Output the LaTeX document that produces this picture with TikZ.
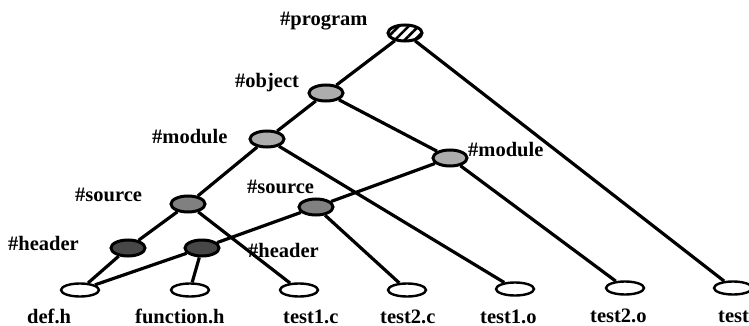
\documentclass[tikz,border=0pt]{standalone}
\usepackage{fontspec}
\setmainfont{Liberation Serif}
\usetikzlibrary{shapes.geometric}
\usetikzlibrary{patterns.meta}
\tikzset{
	inner/.style={ellipse,draw,line width=3pt,minimum width=34pt,minimum height=16pt,inner sep=0pt},
	leaf/.style={ellipse,draw,fill=white,line width=2.4pt,minimum width=38pt,minimum height=13pt,inner sep=0pt},
	tag/.style={anchor=base west,inner sep=0pt,font=\fontsize{20.5}{24}\selectfont\bfseries},
	branch/.style={line width=3.2pt}
}

\begin{document}
\begin{tikzpicture}[x=1pt,y=-1pt]
	\useasboundingbox (0,0) rectangle (749,326);
	% inner nodes
	\node[inner,pattern={Lines[angle=45,distance=7pt,line width=2.6pt]}] (program) at (405,33) {};
	\node[inner,fill=black!32] (object) at (326,93) {};
	\node[inner,fill=black!32] (moduleA) at (267,139) {};
	\node[inner,fill=black!32] (moduleB) at (450,158) {};
	\node[inner,fill=black!50] (sourceA) at (188,204) {};
	\node[inner,fill=black!50] (sourceB) at (316,207) {};
	\node[inner,fill=black!72] (headerA) at (128,248) {};
	\node[inner,fill=black!72] (headerB) at (202,248) {};
	% files
	\node[leaf] (defh) at (80,290) {};
	\node[leaf] (functionh) at (190,290) {};
	\node[leaf] (testonec) at (299,290) {};
	\node[leaf] (testtwoc) at (407,290) {};
	\node[leaf] (testoneo) at (515,289) {};
	\node[leaf] (testtwoo) at (625,288) {};
	\node[leaf] (test) at (733,288) {};
	% tree
	\draw[branch] (program) -- (object);
	\draw[branch] (program) -- (test);
	\draw[branch] (object) -- (moduleA);
	\draw[branch] (object) -- (moduleB);
	\draw[branch] (moduleA) -- (sourceA);
	\draw[branch] (moduleA) -- (testoneo);
	\draw[branch] (moduleB) -- (sourceB);
	\draw[branch] (moduleB) -- (testtwoo);
	\draw[branch] (sourceA) -- (headerA);
	\draw[branch] (sourceA) -- (testonec);
	\draw[branch] (sourceB) -- (headerB);
	\draw[branch] (sourceB) -- (testtwoc);
	\draw[branch] (headerA) -- (defh);
	\draw[branch] (headerB) -- (defh);
	\draw[branch] (headerB) -- (functionh);
	% labels
	\node[tag] (lprogram) at (280,26) {\#program};
	\node[tag] (lobject) at (235,88) {\#object};
	\node[tag] (lmoduleA) at (152,143) {\#module};
	\node[tag] (lmoduleB) at (468,156) {\#module};
	\node[tag] (lsourceA) at (75,201) {\#source};
	\node[tag] (lsourceB) at (247,193) {\#source};
	\node[tag] (lheaderA) at (8,250) {\#header};
	\node[tag] (lheaderB) at (248,257) {\#header};
	\node[tag] (ldefh) at (27,323) {def.h};
	\node[tag] (lfunctionh) at (135,323) {function.h};
	\node[tag] (ltestonec) at (283,323) {test1.c};
	\node[tag] (ltesttwoc) at (380,323) {test2.c};
	\node[tag] (ltestoneo) at (480,323) {test1.o};
	\node[tag] (ltesttwoo) at (590,322) {test2.o};
	\node[tag] (ltest) at (718,322) {test};
\end{tikzpicture}
\end{document}
